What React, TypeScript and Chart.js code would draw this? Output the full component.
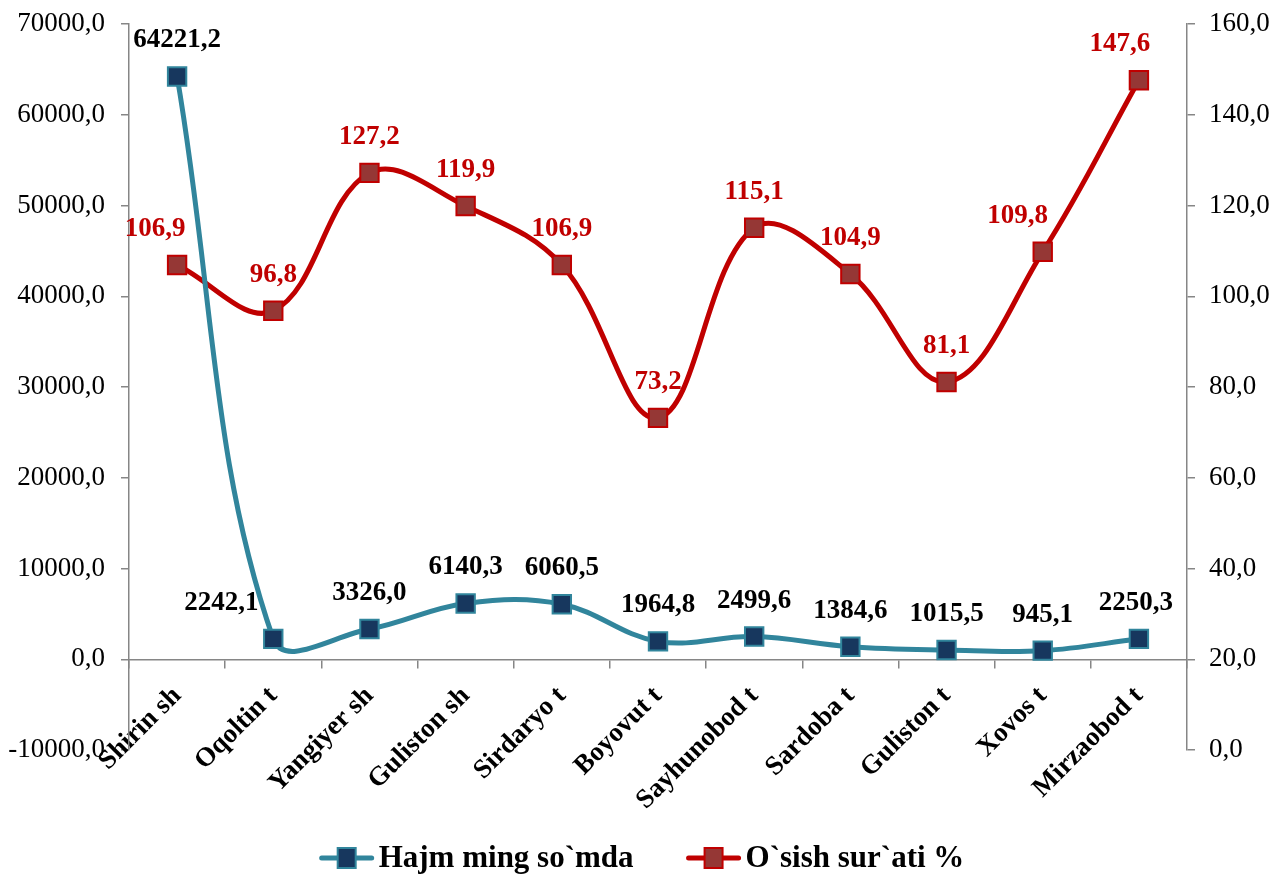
import React, { useEffect, useRef } from 'react';
import { Chart, registerables } from 'chart.js';

Chart.register(...registerables);

const categories = ['Shirin sh', 'Oqoltin t', 'Yangiyer sh', 'Guliston sh', 'Sirdaryo t', 'Boyovut t', 'Sayhunobod t', 'Sardoba t', 'Guliston t', 'Xovos t', 'Mirzaobod t'];
const hajmValues = [64221.2, 2242.1, 3326.0, 6140.3, 6060.5, 1964.8, 2499.6, 1384.6, 1015.5, 945.1, 2250.3];
const osishValues = [106.9, 96.8, 127.2, 119.9, 106.9, 73.2, 115.1, 104.9, 81.1, 109.8, 147.6];
const seriesNames = ['Hajm ming so`mda', 'O`sish sur`ati %'];
const leftAxis = { min: -10000, max: 70000, step: 10000 };
const rightAxis = { min: 0, max: 160, step: 20 };

// label horizontal shifts (style only)
const hajmLabelShift = [0, -52, 0, 0, 0, 0, 0, 0, 0, 0, -3];
const osishLabelShift = [-22, 0, 0, 0, 0, 0, 0, 0, 0, -25, -19];

const FONT = '"Liberation Serif", "Times New Roman", serif';
const BLUE_LINE = '#31859C';
const BLUE_FILL = '#17375E';
const RED_LINE = '#C00000';
const RED_FILL = '#953735';
const AXIS = '#868686';

const fmt = (v: number) => v.toFixed(1).replace('.', ',');

const zeroPad = (s: any) => {
  s.paddingTop = 0;
  s.paddingBottom = 0;
  s.paddingLeft = 0;
  s.paddingRight = 0;
};

const dataLabelPlugin = {
  id: 'dataLabelPlugin',
  afterDatasetsDraw(chart: any) {
    const ctx = chart.ctx;
    ctx.save();
    ctx.font = `bold 27px ${FONT}`;
    ctx.textAlign = 'center';
    ctx.textBaseline = 'middle';
    chart.data.datasets.forEach((ds: any, di: number) => {
      const meta = chart.getDatasetMeta(di);
      ctx.fillStyle = ds.labelColor;
      meta.data.forEach((pt: any, i: number) => {
        const dx = ds.labelShift[i] || 0;
        ctx.fillText(fmt(ds.data[i]), pt.x + dx, pt.y - 36);
      });
    });
    ctx.restore();
  },
};

const legendPlugin = {
  id: 'customLegend',
  afterDraw(chart: any) {
    const ctx = chart.ctx;
    ctx.save();
    ctx.font = `bold 31px ${FONT}`;
    ctx.textBaseline = 'middle';
    ctx.textAlign = 'left';
    const symW = 54;
    const gapText = 5;
    const gapItems = 53;
    const items = chart.data.datasets.map((ds: any) => ({ ds, w: symW + gapText + ctx.measureText(ds.label).width }));
    const total = items.reduce((s: number, it: any) => s + it.w, 0) + gapItems * (items.length - 1);
    let x = chart.width / 2 - total / 2;
    const y = 858;
    items.forEach((it: any) => {
      const ds = it.ds;
      ctx.strokeStyle = ds.borderColor;
      ctx.lineWidth = 5;
      ctx.lineCap = 'round';
      ctx.beginPath();
      ctx.moveTo(x + 2, y);
      ctx.lineTo(x + symW - 2, y);
      ctx.stroke();
      ctx.fillStyle = ds.pointBackgroundColor;
      ctx.strokeStyle = ds.pointBorderColor;
      ctx.lineWidth = 2;
      ctx.beginPath();
      ctx.rect(x + symW / 2 - 9, y - 10, 18, 20);
      ctx.fill();
      ctx.stroke();
      ctx.fillStyle = '#000';
      ctx.fillText(ds.label, x + symW + gapText, y + 1);
      x += it.w + gapItems;
    });
    ctx.restore();
  },
};

export default function App() {
  const ref = useRef<HTMLCanvasElement | null>(null);
  useEffect(() => {
    if (!ref.current) return;
    Chart.defaults.font.family = FONT;
    const chart = new Chart(ref.current, {
      type: 'line',
      data: {
        labels: categories,
        datasets: [
          {
            label: seriesNames[0],
            data: hajmValues,
            yAxisID: 'y',
            borderColor: BLUE_LINE,
            borderWidth: 5,
            pointStyle: 'rect',
            pointRadius: 13,
            pointBackgroundColor: BLUE_FILL,
            pointBorderColor: BLUE_LINE,
            pointBorderWidth: 2,
            tension: 0.38,
            fill: false,
            labelColor: '#000000',
            labelShift: hajmLabelShift,
          } as any,
          {
            label: seriesNames[1],
            data: osishValues,
            yAxisID: 'y1',
            borderColor: RED_LINE,
            borderWidth: 5,
            pointStyle: 'rect',
            pointRadius: 13,
            pointBackgroundColor: RED_FILL,
            pointBorderColor: RED_LINE,
            pointBorderWidth: 2,
            tension: 0.38,
            fill: false,
            labelColor: '#C00000',
            labelShift: osishLabelShift,
          } as any,
        ],
      },
      options: {
        animation: false,
        responsive: false,
        maintainAspectRatio: false,
        layout: { padding: { top: 24, bottom: 130, left: 0, right: 0 } },
        plugins: {
          legend: { display: false },
          tooltip: { enabled: false },
        },
        scales: {
          x: {
            type: 'category',
            position: { y: 0 } as any,
            offset: true,
            grid: { offset: true, drawOnChartArea: false, drawTicks: true, tickLength: 8, color: AXIS, lineWidth: 1.5 },
            border: { color: AXIS, width: 1.5 },
            ticks: {
              autoSkip: false,
              minRotation: 45,
              maxRotation: 45,
              padding: 13,
              color: '#000',
              font: { size: 27, weight: 'bold', family: FONT },
            },
            afterFit: (s: any) => { zeroPad(s); },
          },
          y: {
            position: 'left',
            min: leftAxis.min,
            max: leftAxis.max,
            grid: { drawOnChartArea: false, drawTicks: true, tickLength: 8, color: AXIS, lineWidth: 1.5 },
            border: { color: AXIS, width: 1.5 },
            ticks: {
              stepSize: leftAxis.step,
              padding: 16,
              color: '#000',
              font: { size: 27, family: FONT },
              callback: (v: any) => fmt(Number(v)),
            },
            afterFit: (s: any) => { s.width = 129; zeroPad(s); },
          },
          y1: {
            position: 'right',
            min: rightAxis.min,
            max: rightAxis.max,
            grid: { drawOnChartArea: false, drawTicks: true, tickLength: 8, color: AXIS, lineWidth: 1.5 },
            border: { color: AXIS, width: 1.5 },
            ticks: {
              stepSize: rightAxis.step,
              padding: 14,
              color: '#000',
              font: { size: 27, family: FONT },
              callback: (v: any) => fmt(Number(v)),
            },
            afterFit: (s: any) => { s.width = 97; zeroPad(s); },
          },
        },
      },
      plugins: [dataLabelPlugin, legendPlugin],
    });
    return () => chart.destroy();
  }, []);
  return (
    <div style={{ position: 'fixed', left: 0, top: 0, width: 1284, height: 880, background: '#fff' }}>
      <canvas ref={ref} width={1284} height={880} style={{ width: 1284, height: 880, display: 'block' }} />
    </div>
  );
}
